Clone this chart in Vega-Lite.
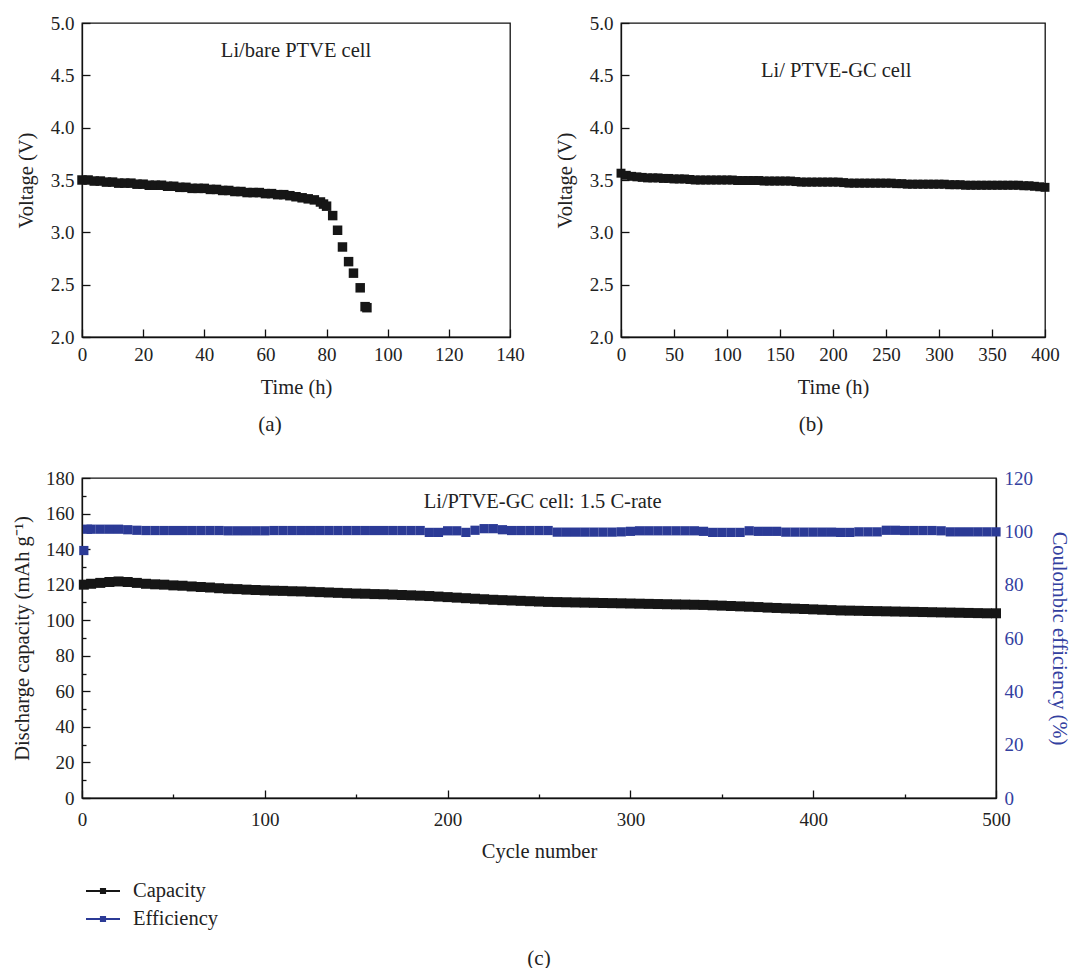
{
 "$schema": "https://vega.github.io/schema/vega-lite/v6.json",
 "padding": {"left": 11, "top": 13, "right": 5, "bottom": 2},
 "background": "white",
 "config": {
  "font": "Liberation Serif",
  "view": {"stroke": "#111", "strokeWidth": 1.3},
  "axis": {"labelFont": "Liberation Serif", "titleFont": "Liberation Serif", "labelFontSize": 19, "titleFontSize": 20.5, "titleFontWeight": "normal", "labelColor": "#222", "titleColor": "#222", "domainColor": "#111", "tickColor": "#111", "grid": false, "domainWidth": 1.3, "tickWidth": 1.3, "labelFlush": false, "labelOverlap": false},
  "title": {"font": "Liberation Serif", "fontSize": 21, "fontWeight": "normal", "color": "#222"},
  "legend": {"labelFont": "Liberation Serif"}
 },
 "datasets": {
  "voltA": [
   {"time":0,"voltage":3.50},{"time":2,"voltage":3.50},{"time":4,"voltage":3.49},{"time":6,"voltage":3.49},{"time":8,"voltage":3.48},{"time":10,"voltage":3.48},{"time":12,"voltage":3.47},{"time":14,"voltage":3.47},{"time":16,"voltage":3.47},{"time":18,"voltage":3.46},{"time":20,"voltage":3.46},{"time":22,"voltage":3.45},{"time":24,"voltage":3.45},{"time":26,"voltage":3.45},{"time":28,"voltage":3.44},{"time":30,"voltage":3.44},{"time":32,"voltage":3.43},{"time":34,"voltage":3.43},{"time":36,"voltage":3.42},{"time":38,"voltage":3.42},{"time":40,"voltage":3.42},{"time":42,"voltage":3.41},{"time":44,"voltage":3.41},{"time":46,"voltage":3.40},{"time":48,"voltage":3.40},{"time":50,"voltage":3.39},{"time":52,"voltage":3.39},{"time":54,"voltage":3.38},{"time":56,"voltage":3.38},{"time":58,"voltage":3.38},{"time":60,"voltage":3.37},{"time":62,"voltage":3.37},{"time":64,"voltage":3.36},{"time":66,"voltage":3.36},{"time":68,"voltage":3.35},{"time":70,"voltage":3.34},{"time":72,"voltage":3.33},{"time":74,"voltage":3.32},{"time":76,"voltage":3.31},{"time":78,"voltage":3.29},{"time":79,"voltage":3.27},{"time":80,"voltage":3.25},
   {"time":82,"voltage":3.16},{"time":83.6,"voltage":3.02},{"time":85.2,"voltage":2.86},{"time":87.2,"voltage":2.72},{"time":88.8,"voltage":2.61},{"time":91,"voltage":2.47},{"time":92.6,"voltage":2.29},{"time":93.2,"voltage":2.28}
  ],
  "voltB": [
   {"time":0,"voltage":3.565},{"time":5,"voltage":3.545},{"time":10,"voltage":3.535},{"time":15,"voltage":3.53},{"time":20,"voltage":3.525},{"time":25,"voltage":3.52},{"time":30,"voltage":3.52},{"time":35,"voltage":3.52},{"time":40,"voltage":3.515},{"time":45,"voltage":3.515},{"time":50,"voltage":3.51},{"time":55,"voltage":3.51},{"time":60,"voltage":3.51},{"time":65,"voltage":3.505},{"time":70,"voltage":3.50},{"time":75,"voltage":3.50},{"time":80,"voltage":3.50},{"time":85,"voltage":3.50},{"time":90,"voltage":3.50},{"time":95,"voltage":3.50},{"time":100,"voltage":3.50},{"time":105,"voltage":3.50},{"time":110,"voltage":3.495},{"time":115,"voltage":3.495},{"time":120,"voltage":3.495},{"time":125,"voltage":3.495},{"time":130,"voltage":3.495},{"time":135,"voltage":3.49},{"time":140,"voltage":3.49},{"time":145,"voltage":3.49},{"time":150,"voltage":3.49},{"time":155,"voltage":3.49},{"time":160,"voltage":3.49},{"time":165,"voltage":3.485},{"time":170,"voltage":3.48},{"time":175,"voltage":3.48},{"time":180,"voltage":3.48},{"time":185,"voltage":3.48},{"time":190,"voltage":3.48},{"time":195,"voltage":3.48},{"time":200,"voltage":3.48},{"time":205,"voltage":3.48},{"time":210,"voltage":3.475},{"time":215,"voltage":3.47},{"time":220,"voltage":3.47},{"time":225,"voltage":3.47},{"time":230,"voltage":3.47},{"time":235,"voltage":3.47},{"time":240,"voltage":3.47},{"time":245,"voltage":3.47},{"time":250,"voltage":3.47},{"time":255,"voltage":3.47},{"time":260,"voltage":3.465},{"time":265,"voltage":3.465},{"time":270,"voltage":3.46},{"time":275,"voltage":3.46},{"time":280,"voltage":3.46},{"time":285,"voltage":3.46},{"time":290,"voltage":3.46},{"time":295,"voltage":3.46},{"time":300,"voltage":3.46},{"time":305,"voltage":3.46},{"time":310,"voltage":3.455},{"time":315,"voltage":3.455},{"time":320,"voltage":3.455},{"time":325,"voltage":3.45},{"time":330,"voltage":3.45},{"time":335,"voltage":3.45},{"time":340,"voltage":3.45},{"time":345,"voltage":3.45},{"time":350,"voltage":3.45},{"time":355,"voltage":3.45},{"time":360,"voltage":3.45},{"time":365,"voltage":3.45},{"time":370,"voltage":3.45},{"time":375,"voltage":3.45},{"time":380,"voltage":3.445},{"time":385,"voltage":3.445},{"time":390,"voltage":3.44},{"time":395,"voltage":3.435},{"time":400,"voltage":3.43}
  ],
  "cap": [
   {"cycle":1,"value":120.0},{"cycle":5,"value":120.5},{"cycle":10,"value":121.0},{"cycle":15,"value":121.5},{"cycle":20,"value":121.8},{"cycle":25,"value":121.5},{"cycle":30,"value":121.0},{"cycle":35,"value":120.5},{"cycle":40,"value":120.2},{"cycle":45,"value":120.0},{"cycle":50,"value":119.6},{"cycle":55,"value":119.4},{"cycle":60,"value":119.0},{"cycle":65,"value":118.7},{"cycle":70,"value":118.4},{"cycle":75,"value":118.0},{"cycle":80,"value":117.7},{"cycle":85,"value":117.5},{"cycle":90,"value":117.2},{"cycle":95,"value":117.0},{"cycle":100,"value":116.8},{"cycle":105,"value":116.6},{"cycle":110,"value":116.5},{"cycle":115,"value":116.3},{"cycle":120,"value":116.2},{"cycle":125,"value":116.0},{"cycle":130,"value":115.8},{"cycle":135,"value":115.6},{"cycle":140,"value":115.4},{"cycle":145,"value":115.2},{"cycle":150,"value":115.0},{"cycle":155,"value":114.9},{"cycle":160,"value":114.7},{"cycle":165,"value":114.6},{"cycle":170,"value":114.4},{"cycle":175,"value":114.2},{"cycle":180,"value":114.0},{"cycle":185,"value":113.8},{"cycle":190,"value":113.6},{"cycle":195,"value":113.3},{"cycle":200,"value":113.0},{"cycle":205,"value":112.7},{"cycle":210,"value":112.4},{"cycle":215,"value":112.1},{"cycle":220,"value":111.8},{"cycle":225,"value":111.5},{"cycle":230,"value":111.3},{"cycle":235,"value":111.1},{"cycle":240,"value":110.9},{"cycle":245,"value":110.7},{"cycle":250,"value":110.5},{"cycle":255,"value":110.3},{"cycle":260,"value":110.2},{"cycle":265,"value":110.1},{"cycle":270,"value":110.0},{"cycle":275,"value":109.9},{"cycle":280,"value":109.8},{"cycle":285,"value":109.7},{"cycle":290,"value":109.6},{"cycle":295,"value":109.5},{"cycle":300,"value":109.4},{"cycle":305,"value":109.3},{"cycle":310,"value":109.2},{"cycle":315,"value":109.1},{"cycle":320,"value":109.0},{"cycle":325,"value":108.9},{"cycle":330,"value":108.8},{"cycle":335,"value":108.7},{"cycle":340,"value":108.6},{"cycle":345,"value":108.4},{"cycle":350,"value":108.2},{"cycle":355,"value":108.0},{"cycle":360,"value":107.8},{"cycle":365,"value":107.6},{"cycle":370,"value":107.4},{"cycle":375,"value":107.1},{"cycle":380,"value":106.9},{"cycle":385,"value":106.7},{"cycle":390,"value":106.5},{"cycle":395,"value":106.3},{"cycle":400,"value":106.1},{"cycle":405,"value":105.9},{"cycle":410,"value":105.7},{"cycle":415,"value":105.5},{"cycle":420,"value":105.4},{"cycle":425,"value":105.3},{"cycle":430,"value":105.2},{"cycle":435,"value":105.1},{"cycle":440,"value":105.0},{"cycle":445,"value":104.9},{"cycle":450,"value":104.8},{"cycle":455,"value":104.7},{"cycle":460,"value":104.6},{"cycle":465,"value":104.5},{"cycle":470,"value":104.4},{"cycle":475,"value":104.3},{"cycle":480,"value":104.2},{"cycle":485,"value":104.1},{"cycle":490,"value":104.0},{"cycle":495,"value":103.9},{"cycle":500,"value":103.9}
  ],
  "eff": [
   {"cycle":1,"value":92.8},{"cycle":3,"value":100.8},{"cycle":5,"value":100.8},{"cycle":10,"value":100.8},{"cycle":15,"value":100.8},{"cycle":20,"value":100.8},{"cycle":25,"value":100.6},{"cycle":30,"value":100.4},{"cycle":35,"value":100.3},{"cycle":40,"value":100.3},{"cycle":45,"value":100.3},{"cycle":50,"value":100.3},{"cycle":55,"value":100.3},{"cycle":60,"value":100.3},{"cycle":65,"value":100.3},{"cycle":70,"value":100.3},{"cycle":75,"value":100.3},{"cycle":80,"value":100.2},{"cycle":85,"value":100.2},{"cycle":90,"value":100.2},{"cycle":95,"value":100.2},{"cycle":100,"value":100.2},{"cycle":105,"value":100.3},{"cycle":110,"value":100.3},{"cycle":115,"value":100.3},{"cycle":120,"value":100.3},{"cycle":125,"value":100.3},{"cycle":130,"value":100.3},{"cycle":135,"value":100.3},{"cycle":140,"value":100.3},{"cycle":145,"value":100.3},{"cycle":150,"value":100.3},{"cycle":155,"value":100.3},{"cycle":160,"value":100.3},{"cycle":165,"value":100.3},{"cycle":170,"value":100.3},{"cycle":175,"value":100.3},{"cycle":180,"value":100.3},{"cycle":185,"value":100.3},{"cycle":190,"value":99.6},{"cycle":195,"value":99.6},{"cycle":200,"value":100.2},{"cycle":205,"value":100.2},{"cycle":210,"value":99.6},{"cycle":215,"value":100.4},{"cycle":220,"value":101.0},{"cycle":225,"value":101.0},{"cycle":230,"value":100.6},{"cycle":235,"value":100.3},{"cycle":240,"value":100.3},{"cycle":245,"value":100.3},{"cycle":250,"value":100.3},{"cycle":255,"value":100.3},{"cycle":260,"value":99.7},{"cycle":265,"value":99.7},{"cycle":270,"value":99.7},{"cycle":275,"value":99.7},{"cycle":280,"value":99.7},{"cycle":285,"value":99.7},{"cycle":290,"value":99.7},{"cycle":295,"value":99.8},{"cycle":300,"value":100.0},{"cycle":305,"value":100.2},{"cycle":310,"value":100.2},{"cycle":315,"value":100.2},{"cycle":320,"value":100.2},{"cycle":325,"value":100.2},{"cycle":330,"value":100.2},{"cycle":335,"value":100.2},{"cycle":340,"value":100.0},{"cycle":345,"value":99.6},{"cycle":350,"value":99.6},{"cycle":355,"value":99.6},{"cycle":360,"value":99.6},{"cycle":365,"value":100.2},{"cycle":370,"value":100.0},{"cycle":375,"value":100.0},{"cycle":380,"value":100.0},{"cycle":385,"value":99.7},{"cycle":390,"value":99.7},{"cycle":395,"value":99.7},{"cycle":400,"value":99.7},{"cycle":405,"value":99.7},{"cycle":410,"value":99.7},{"cycle":415,"value":99.6},{"cycle":420,"value":99.6},{"cycle":425,"value":99.8},{"cycle":430,"value":99.8},{"cycle":435,"value":99.8},{"cycle":440,"value":100.4},{"cycle":445,"value":100.4},{"cycle":450,"value":100.3},{"cycle":455,"value":100.3},{"cycle":460,"value":100.3},{"cycle":465,"value":100.3},{"cycle":470,"value":100.2},{"cycle":475,"value":99.8},{"cycle":480,"value":99.8},{"cycle":485,"value":99.8},{"cycle":490,"value":99.8},{"cycle":495,"value":99.8},{"cycle":500,"value":99.8}
  ]
 },
 "vconcat": [
  {
   "hconcat": [
    {
     "width": 428, "height": 314,
     "title": {"text": "(a)", "orient": "bottom", "dx": -26, "offset": 16},
     "layer": [
      {
       "data": {"name": "voltA"},
       "mark": {"type": "square", "size": 90, "filled": true, "opacity": 1, "color": "#161616"},
       "encoding": {
        "x": {"field": "time", "type": "quantitative", "scale": {"domain": [0, 140]},
              "axis": {"title": "Time (h)", "values": [0,10,20,30,40,50,60,70,80,90,100,110,120,130,140], "labelExpr": "datum.value % 20 === 0 ? datum.label : ''", "tickSize": {"condition": {"test": "datum.value % 20 === 0", "value": -8}, "value": -4}, "labelPadding": 16, "titlePadding": 13, "labelOverlap": false}},
        "y": {"field": "voltage", "type": "quantitative", "scale": {"domain": [2, 5]},
              "axis": {"title": "Voltage (V)", "values": [2,2.25,2.5,2.75,3,3.25,3.5,3.75,4,4.25,4.5,4.75,5], "labelExpr": "(datum.value*4) % 2 === 0 ? format(datum.value, '.1f') : ''", "tickSize": {"condition": {"test": "(datum.value*4) % 2 === 0", "value": -8}, "value": -4}, "labelPadding": 16, "titlePadding": 14, "labelOverlap": false}}
       }
      },
      {
       "data": {"values": [{"time": 70, "voltage": 4.73, "label": "Li/bare PTVE cell"}]},
       "mark": {"type": "text", "fontSize": 20.5, "font": "Liberation Serif", "color": "#222"},
       "encoding": {"x": {"field": "time", "type": "quantitative"}, "y": {"field": "voltage", "type": "quantitative"}, "text": {"field": "label"}}
      }
     ]
    },
    {
     "width": 424, "height": 314,
     "title": {"text": "(b)", "orient": "bottom", "dx": -22, "offset": 16},
     "layer": [
      {
       "data": {"name": "voltB"},
       "mark": {"type": "square", "size": 80, "filled": true, "opacity": 1, "color": "#161616"},
       "encoding": {
        "x": {"field": "time", "type": "quantitative", "scale": {"domain": [0, 400]},
              "axis": {"title": "Time (h)", "values": [0,25,50,75,100,125,150,175,200,225,250,275,300,325,350,375,400], "labelExpr": "datum.value % 50 === 0 ? datum.label : ''", "tickSize": {"condition": {"test": "datum.value % 50 === 0", "value": -8}, "value": -4}, "labelPadding": 16, "titlePadding": 13, "labelOverlap": false}},
        "y": {"field": "voltage", "type": "quantitative", "scale": {"domain": [2, 5]},
              "axis": {"title": "Voltage (V)", "values": [2,2.25,2.5,2.75,3,3.25,3.5,3.75,4,4.25,4.5,4.75,5], "labelExpr": "(datum.value*4) % 2 === 0 ? format(datum.value, '.1f') : ''", "tickSize": {"condition": {"test": "(datum.value*4) % 2 === 0", "value": -8}, "value": -4}, "labelPadding": 16, "titlePadding": 14, "labelOverlap": false}}
       }
      },
      {
       "data": {"values": [{"time": 203, "voltage": 4.545, "label": "Li/ PTVE-GC cell"}]},
       "mark": {"type": "text", "fontSize": 20.5, "font": "Liberation Serif", "color": "#222"},
       "encoding": {"x": {"field": "time", "type": "quantitative"}, "y": {"field": "voltage", "type": "quantitative"}, "text": {"field": "label"}}
      }
     ]
    }
   ],
   "spacing": 111,
   "bounds": "flush"
  },
  {
   "width": 914, "height": 320,
   "title": {"text": "(c)", "orient": "bottom", "offset": 86},
   "layer": [
    {
     "data": {"name": "cap"},
     "transform": [{"calculate": "'Capacity'", "as": "series"}],
     "mark": {"type": "square", "size": 100, "filled": true, "opacity": 1},
     "encoding": {
      "x": {"field": "cycle", "type": "quantitative", "scale": {"domain": [0, 500]},
            "axis": {"title": "Cycle number", "values": [0,50,100,150,200,250,300,350,400,450,500], "labelExpr": "datum.value % 100 === 0 ? datum.label : ''", "tickSize": {"condition": {"test": "datum.value % 100 === 0", "value": -8}, "value": -4}, "labelPadding": 20, "titlePadding": 8, "labelOverlap": false}},
      "y": {"field": "value", "type": "quantitative", "scale": {"domain": [0, 180]},
            "axis": {"title": "Discharge capacity (mAh g⁻¹)", "values": [0,10,20,30,40,50,60,70,80,90,100,110,120,130,140,150,160,170,180], "labelExpr": "datum.value % 20 === 0 ? datum.label : ''", "tickSize": {"condition": {"test": "datum.value % 20 === 0", "value": -8}, "value": -4}, "labelPadding": 16, "titlePadding": 13, "labelOverlap": false}},
      "color": {"field": "series", "type": "nominal", "scale": {"domain": ["Capacity", "Efficiency"], "range": ["#161616", "#2b3a96"]},
                "legend": {"orient": "none", "legendX": 4, "legendY": 851, "title": null, "symbolType": "M-1,-0.055H1V0.055H-1Z M-0.18,-0.18H0.18V0.18H-0.18Z", "symbolSize": 1156, "symbolStrokeWidth": 0, "symbolOpacity": 1, "labelFontSize": 20.5, "labelColor": "#222", "labelOffset": 13, "rowPadding": -1, "padding": 0}}
     }
    },
    {
     "data": {"name": "eff"},
     "transform": [{"calculate": "'Efficiency'", "as": "series"}],
     "mark": {"type": "square", "size": 85, "filled": true, "opacity": 1},
     "encoding": {
      "x": {"field": "cycle", "type": "quantitative"},
      "y": {"field": "value", "type": "quantitative", "scale": {"domain": [0, 120]},
            "axis": {"title": "Coulombic efficiency (%)", "orient": "right", "values": [0,20,40,60,80,100,120], "ticks": false, "labelPadding": 8, "titlePadding": 16, "labelColor": "#3340a0", "titleColor": "#3340a0", "labelOverlap": false}},
      "color": {"field": "series", "type": "nominal"}
     }
    },
    {
     "data": {"values": [{"cycle": 252, "value": 166.5, "label": "Li/PTVE-GC cell: 1.5 C-rate"}]},
     "mark": {"type": "text", "fontSize": 20.5, "font": "Liberation Serif", "color": "#222"},
     "encoding": {"x": {"field": "cycle", "type": "quantitative"}, "y": {"field": "value", "type": "quantitative", "scale": {"domain": [0, 180]}, "axis": null}, "text": {"field": "label"}}
    }
   ],
   "resolve": {"scale": {"y": "independent"}}
  }
 ],
 "spacing": 455,
 "bounds": "flush"
}
